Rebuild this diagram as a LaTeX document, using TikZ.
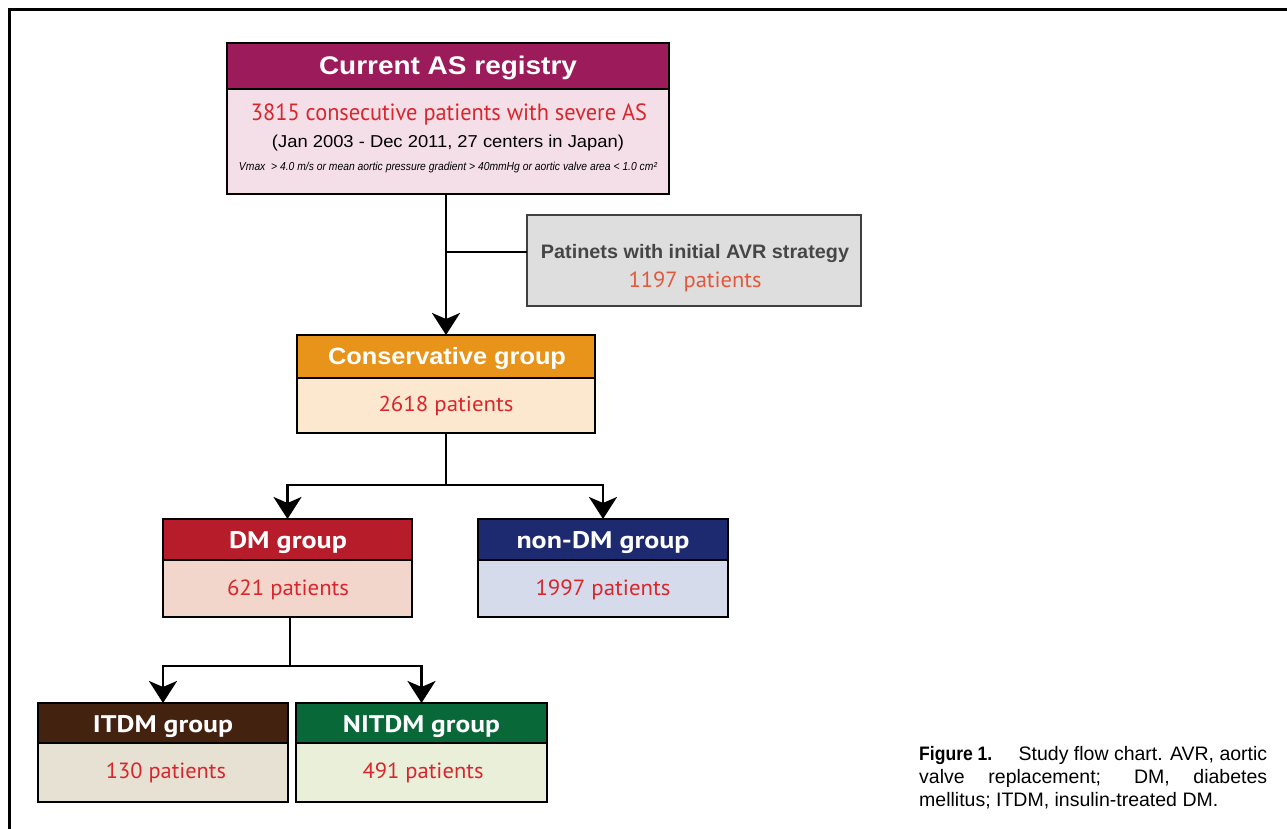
\documentclass[tikz,border=0pt]{standalone}
\usepackage{graphicx}
\usepackage{fontspec}
\setmainfont{Liberation Sans}
\newfontfamily\myr{PT Sans}
\usetikzlibrary{arrows.meta}
\definecolor{cAShd}{RGB}{156,27,90}
\definecolor{cASbd}{RGB}{244,222,231}
\definecolor{cgfill}{RGB}{222,222,222}
\definecolor{cgline}{RGB}{64,64,64}
\definecolor{cgtxt}{RGB}{70,70,70}
\definecolor{corange}{RGB}{226,88,60}
\definecolor{cred}{RGB}{217,38,44}
\definecolor{cconhd}{RGB}{232,148,26}
\definecolor{cconbd}{RGB}{251,232,207}
\definecolor{cdmhd}{RGB}{183,28,43}
\definecolor{cdmbd}{RGB}{242,214,203}
\definecolor{cndhd}{RGB}{30,42,111}
\definecolor{cndbd}{RGB}{213,219,235}
\definecolor{cithd}{RGB}{67,34,15}
\definecolor{citbd}{RGB}{231,225,212}
\definecolor{cnihd}{RGB}{8,104,56}
\definecolor{cnibd}{RGB}{233,239,217}
% text of natural height at size #2, stretched or squeezed to width #1
\newcommand{\fw}[3]{\resizebox{#1pt}{\height}{\fontsize{#2}{#2}\selectfont #3}}
\begin{document}
\begin{tikzpicture}[x=1pt,y=-1pt,
  box/.style={draw=black, line width=2.6pt, anchor=north west, inner sep=0pt, outer sep=0pt},
  lnk/.style={line width=2.8pt, draw=black},
  arr/.style={lnk, -{Stealth[length=22pt,width=28pt,inset=6pt]}},
  txt/.style={anchor=base, inner sep=0pt},
  hdtxt/.style={txt, text=white},
  bdtxt/.style={txt, text=cred}]
\useasboundingbox (0,0) rectangle (1287,829);
% frame
\draw[line width=3pt] (9.5,829) -- (9.5,9.5) -- (1287,9.5);
% top box
\node[box, fill=cAShd, minimum width=442pt, minimum height=46pt] (th) at (227,43) {};
\node[box, fill=cASbd, minimum width=442pt, minimum height=105pt] (tb) at (227,89) {};
\node[hdtxt] (t1) at (448,75) {\fw{258}{25.5}{\bfseries Current AS registry}};
\node[bdtxt] (t2) at (449,121) {\fw{396}{23.5}{\myr 3815 consecutive patients with severe AS}};
\node[txt] (t3) at (448,148) {\fw{352}{17.2}{(Jan 2003 - Dec 2011, 27 centers in Japan)}};
\node[txt] (t4) at (448,171) {\fw{418}{11.6}{\itshape Vmax\ \ > 4.0 m/s or mean aortic pressure gradient > 40mmHg or aortic valve area < 1.0 cm²}};
% gray box
\node[box, draw=cgline, fill=cgfill, minimum width=334pt, minimum height=91pt] (gb) at (527,215) {};
\node[txt, text=cgtxt] (g1) at (695,258) {\fw{308}{19.5}{\bfseries Patinets with initial AVR strategy}};
\node[txt, text=corange] (g2) at (695,287) {\fw{133}{22}{\myr 1197 patients}};
% conservative
\node[box, fill=cconhd, minimum width=298pt, minimum height=43pt] (ch) at (297,335) {};
\node[box, fill=cconbd, minimum width=298pt, minimum height=55pt] (cb) at (297,378) {};
\node[hdtxt] (c1) at (447,364) {\fw{238}{23.5}{\bfseries Conservative group}};
\node[bdtxt] (c2) at (446,411) {\fw{135}{21.5}{\myr 2618 patients}};
% DM
\node[box, fill=cdmhd, minimum width=249pt, minimum height=41pt] (dh) at (163,519) {};
\node[box, fill=cdmbd, minimum width=249pt, minimum height=57pt] (db) at (163,560) {};
\node[hdtxt] (d1) at (288,548) {\fw{118}{24}{\myr\bfseries DM group}};
\node[bdtxt] (d2) at (288,595) {\fw{122}{22}{\myr 621 patients}};
% non-DM
\node[box, fill=cndhd, minimum width=250pt, minimum height=41pt] (nh) at (478,519) {};
\node[box, fill=cndbd, minimum width=250pt, minimum height=57pt] (nb) at (478,560) {};
\node[hdtxt] (n1) at (603,548) {\fw{173}{24}{\myr\bfseries non-DM group}};
\node[bdtxt] (n2) at (603,595) {\fw{135}{22}{\myr 1997 patients}};
% ITDM
\node[box, fill=cithd, minimum width=250pt, minimum height=40pt] (ih) at (38,703) {};
\node[box, fill=citbd, minimum width=250pt, minimum height=59pt] (ib) at (38,743) {};
\node[hdtxt] (i1) at (163,732) {\fw{140}{24}{\myr\bfseries ITDM group}};
\node[bdtxt] (i2) at (166,778) {\fw{120}{22}{\myr 130 patients}};
% NITDM
\node[box, fill=cnihd, minimum width=251pt, minimum height=40pt] (mh) at (296,703) {};
\node[box, fill=cnibd, minimum width=251pt, minimum height=59pt] (mb) at (296,743) {};
\node[hdtxt] (m1) at (421.5,732) {\fw{157}{24}{\myr\bfseries NITDM group}};
\node[bdtxt] (m2) at (423,778) {\fw{121}{22}{\myr 491 patients}};
% connectors
\draw[arr] (tb.south -| ch.north) -- (ch.north);
\coordinate (j1) at (446,252);
\draw[lnk] (j1) -- (j1 -| gb.west);
\coordinate (h1) at (446,485);
\draw[lnk] (cb.south) -- (h1);
\draw[arr] (h1) -| (dh.north);
\draw[arr] (h1) -| (nh.north);
\coordinate (h2) at (290,666);
\draw[lnk] (h2 |- db.south) -- (h2);
\draw[arr] (h2) -| (ih.north);
\draw[arr] (h2) -| (mh.north);
% caption
\node[anchor=base west, inner sep=0pt] (cap1) at (919,760) {\fontsize{19.5}{23}\selectfont\makebox[348pt][s]{\scalebox{0.9}[1]{\bfseries Figure 1.}\hfill Study flow chart. AVR, aortic}};
\node[anchor=base west, inner sep=0pt] (cap2) at (919,783) {\fontsize{19.5}{23}\selectfont\makebox[348pt][s]{valve replacement; DM, diabetes}};
\node[anchor=base west, inner sep=0pt] (cap3) at (919,806) {\fontsize{19.5}{23}\selectfont mellitus; ITDM, insulin-treated DM.};
\end{tikzpicture}
\end{document}
